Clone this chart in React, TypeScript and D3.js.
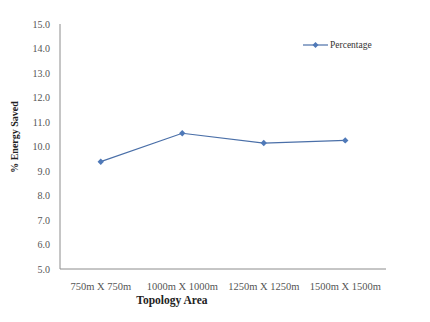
import React from "react";
import * as d3 from "d3";

const categories = ["750m X 750m", "1000m X 1000m", "1250m X 1250m", "1500m X 1500m"];
const percentage = [9.38, 10.54, 10.14, 10.25];
const yTicks = [5, 6, 7, 8, 9, 10, 11, 12, 13, 14, 15];
const seriesName = "Percentage";

export default function App() {
  const W = 430, H = 322;
  const left = 60, right = 386, top = 24, bottom = 269;
  const x = d3.scaleBand<string>().domain(categories).range([left, right]);
  const y = d3.scaleLinear().domain([5, 15]).range([bottom, top]);
  const line = d3
    .line<number>()
    .x((_, i) => (x(categories[i]) as number) + x.bandwidth() / 2)
    .y((d) => y(d));
  const font = "'Liberation Serif', 'Times New Roman', serif";
  const lineColor = "#4a6fa8";
  const markerColor = "#4f79b8";
  const diamond = (cx: number, cy: number, r: number) =>
    `M${cx},${cy - r}L${cx + r},${cy}L${cx},${cy + r}L${cx - r},${cy}Z`;
  return (
    <svg
      width={W}
      height={H}
      style={{ position: "absolute", left: 0, top: 0, background: "#fff" }}
      fontFamily={font}
    >
      <rect width={W} height={H} fill="#fff" />
      <line x1={left} x2={left} y1={top} y2={bottom} stroke="#8c8c8c" strokeWidth={1} />
      <line x1={left} x2={right} y1={bottom} y2={bottom} stroke="#8c8c8c" strokeWidth={1} />
      {yTicks.map((t) => (
        <text
          key={t}
          x={50}
          y={y(t)}
          dy="0.35em"
          textAnchor="end"
          fontSize={10}
          fill="#555"
        >
          {t.toFixed(1)}
        </text>
      ))}
      {categories.map((c) => (
        <text
          key={c}
          x={(x(c) as number) + x.bandwidth() / 2}
          y={286.5}
          dy="0.35em"
          textAnchor="middle"
          fontSize={10.5}
          fill="#555"
        >
          {c}
        </text>
      ))}
      <text
        x={172}
        y={299.5}
        dy="0.35em"
        textAnchor="middle"
        fontSize={11.5}
        fontWeight="bold"
        fill="#222"
      >
        Topology Area
      </text>
      <text
        transform={`translate(14,137) rotate(-90)`}
        textAnchor="middle"
        dy="0.35em"
        fontSize={10}
        fontWeight="bold"
        fill="#222"
      >
        % Energy Saved
      </text>
      <path d={line(percentage) || ""} fill="none" stroke={lineColor} strokeWidth={1.2} />
      {percentage.map((v, i) => (
        <path
          key={i}
          d={diamond((x(categories[i]) as number) + x.bandwidth() / 2, y(v), 3.2)}
          fill={markerColor}
        />
      ))}
      <line x1={303} x2={328} y1={45} y2={45} stroke={lineColor} strokeWidth={1.2} />
      <path d={diamond(315.5, 45, 3)} fill={markerColor} />
      <text x={330} y={45} dy="0.35em" fontSize={9.5} fill="#333">
        {seriesName}
      </text>
    </svg>
  );
}
